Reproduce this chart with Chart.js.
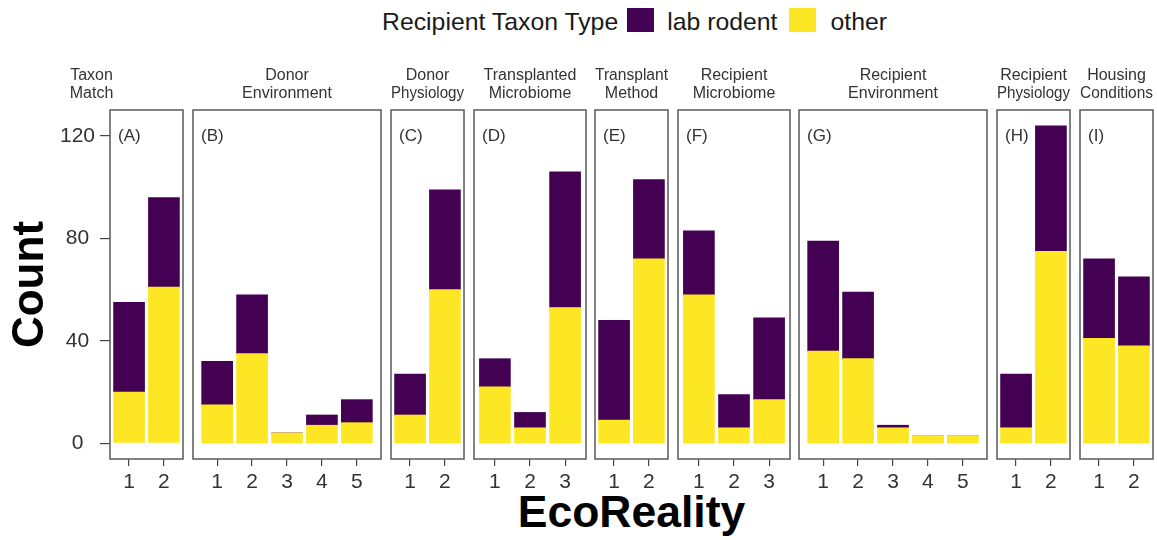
<!DOCTYPE html>
<html>
<head>
<meta charset="utf-8">
<script src="https://cdn.jsdelivr.net/npm/chart.js@4.4.1/dist/chart.umd.min.js"></script>
<style>
  body { margin: 0; background: #fff; font-family: "Liberation Sans", Arial, sans-serif; }
  #fig { position: relative; width: 1157px; height: 540px; overflow: hidden; background: #fff; }
  #fig canvas { position: absolute; top: 0; }
  #legend { position: absolute; left: 382px; top: 8px; display: flex; align-items: center;
            font-size: 24.8px; line-height: 24px; color: #1a1a1a; white-space: nowrap; }
  #legend .txt { position: relative; top: 2px; }
  #legend .key { display: inline-block; width: 27px; height: 24px; }
  #xtitle { position: absolute; left: 110px; width: 1043px; top: 490px; text-align: center;
            font-size: 44.5px; line-height: 44px; font-weight: bold; color: #000; }
</style>
</head>
<body>
<div id="fig">
  <div id="legend">
    <span class="txt">Recipient Taxon Type</span>
    <span class="key" id="keyRodent" style="margin-left:9px"></span>
    <span class="txt" style="margin-left:13px">lab rodent</span>
    <span class="key" id="keyOther" style="margin-left:12px"></span>
    <span class="txt" style="margin-left:14px">other</span>
  </div>
  <div id="xtitle">EcoReality</div>
</div>
<script>
// facet strips, panel tags and EcoReality levels per facet
var panelNames = [
  ['Taxon', 'Match'], ['Donor', 'Environment'], ['Donor', 'Physiology'],
  ['Transplanted', 'Microbiome'], ['Transplant', 'Method'], ['Recipient', 'Microbiome'],
  ['Recipient', 'Environment'], ['Recipient', 'Physiology'], ['Housing', 'Conditions']
];
var panelTags = ['(A)', '(B)', '(C)', '(D)', '(E)', '(F)', '(G)', '(H)', '(I)'];
var ecoLevels = [[1, 2], [1, 2, 3, 4, 5], [1, 2], [1, 2, 3], [1, 2], [1, 2, 3], [1, 2, 3, 4, 5], [1, 2], [1, 2]];

// counts by recipient taxon type
var otherCounts  = [[20, 61], [15, 35, 4, 7, 8], [11, 60], [22, 6, 53], [9, 72], [58, 6, 17], [36, 33, 6, 3, 3], [6, 75], [41, 38]];
var rodentCounts = [[35, 35], [17, 23, 0, 4, 9], [16, 39], [11, 6, 53], [39, 31], [25, 13, 32], [43, 26, 1, 0, 0], [21, 49], [31, 27]];

var yTicks = [0, 40, 80, 120];

var RODENT_COL = '#440154';
var OTHER_COL = '#FDE725';
var FONT = '"Liberation Sans", Arial, sans-serif';

document.getElementById('keyRodent').style.background = RODENT_COL;
document.getElementById('keyOther').style.background = OTHER_COL;

Chart.defaults.font.family = FONT;

// y range with 5% expansion like ggplot
var maxTotal = 0;
otherCounts.forEach(function (p, i) {
  p.forEach(function (v, j) { maxTotal = Math.max(maxTotal, v + rodentCounts[i][j]); });
});
var yMin = -0.05 * maxTotal, yMax = 1.05 * maxTotal;

// panel layout
var PANEL_L = 110, PANEL_R = 1153, GAP = 9.5, PAD = 10;
var totalLevels = 0;
ecoLevels.forEach(function (l) { totalLevels += l.length; });
var unitW = (PANEL_R - PANEL_L - GAP * (ecoLevels.length - 1)) / (totalLevels - 0.09 * ecoLevels.length);
var tickStep = unitW * 0.912;

// border + (A) tag inside each panel
var panelBox = {
  id: 'panelBox',
  afterDraw: function (chart, args, opts) {
    var a = chart.chartArea, ctx = chart.ctx;
    ctx.save();
    ctx.strokeStyle = '#5a5a5a';
    ctx.lineWidth = 1.5;
    ctx.strokeRect(a.left, a.top, a.right - a.left, a.bottom - a.top);
    ctx.font = '17px ' + FONT;
    ctx.fillStyle = '#333';
    ctx.textBaseline = 'middle';
    ctx.fillText(opts.tag, a.left + 8, chart.scales.y.getPixelForValue(120));
    ctx.restore();
  }
};

var fig = document.getElementById('fig');
var left = PANEL_L;

ecoLevels.forEach(function (levels, i) {
  var n = levels.length;
  var w = unitW * (n - 0.09);
  var first = i === 0;
  var span = w / tickStep - (n - 1);
  var xMin = levels[0] - span / 2, xMax = levels[n - 1] + span / 2;

  var cLeft = first ? 0 : left - PAD;
  var canvas = document.createElement('canvas');
  canvas.width = Math.round(left + w + PAD - cLeft);
  canvas.height = 500;
  canvas.style.left = cLeft + 'px';
  fig.appendChild(canvas);

  new Chart(canvas, {
    type: 'bar',
    data: {
      datasets: [
        {
          label: 'other',
          data: levels.map(function (v, j) { return { x: v, y: otherCounts[i][j] }; }),
          backgroundColor: OTHER_COL,
          barThickness: 31,
          stack: 's'
        },
        {
          label: 'lab rodent',
          data: levels.map(function (v, j) { return { x: v, y: rodentCounts[i][j] }; }),
          backgroundColor: RODENT_COL,
          barThickness: 31,
          stack: 's'
        }
      ]
    },
    options: {
      responsive: false,
      animation: false,
      devicePixelRatio: 1,
      layout: { padding: { left: first ? 0 : PAD, right: PAD, top: 0, bottom: 0 } },
      plugins: {
        legend: { display: false },
        tooltip: { enabled: false },
        title: {
          display: true,
          text: panelNames[i],
          color: '#333',
          font: { size: 16, weight: 'normal', lineHeight: 1.125 },
          padding: { top: 67, bottom: 7 }
        },
        panelBox: { tag: panelTags[i] }
      },
      scales: {
        x: {
          type: 'linear',
          stacked: true,
          offset: false,
          min: xMin,
          max: xMax,
          afterBuildTicks: function (s) { s.ticks = levels.map(function (v) { return { value: v }; }); },
          afterFit: function (s) { s.height = 41; },
          grid: { offset: false, drawOnChartArea: false, drawTicks: true, tickLength: 7, color: '#444', lineWidth: 1.2 },
          border: { display: false },
          ticks: {
            autoSkip: false, maxRotation: 0, padding: 4, color: '#333',
            font: { size: 21 },
            callback: function (v) { return String(v); }
          }
        },
        y: {
          display: first,
          stacked: true,
          min: yMin,
          max: yMax,
          afterBuildTicks: function (s) { s.ticks = yTicks.map(function (v) { return { value: v }; }); },
          afterFit: function (s) { if (first) s.width = PANEL_L; },
          grid: { drawOnChartArea: false, drawTicks: true, tickLength: 10, color: '#444', lineWidth: 1.2 },
          border: { display: false },
          ticks: { crossAlign: 'center', padding: 5, color: '#333', font: { size: 21 } },
          title: {
            display: true,
            text: 'Count',
            color: '#000',
            font: { size: 44, weight: 'bold' },
            padding: { top: 4, bottom: 0 }
          }
        }
      }
    },
    plugins: [panelBox]
  });

  left += w + GAP;
});
</script>
</body>
</html>
